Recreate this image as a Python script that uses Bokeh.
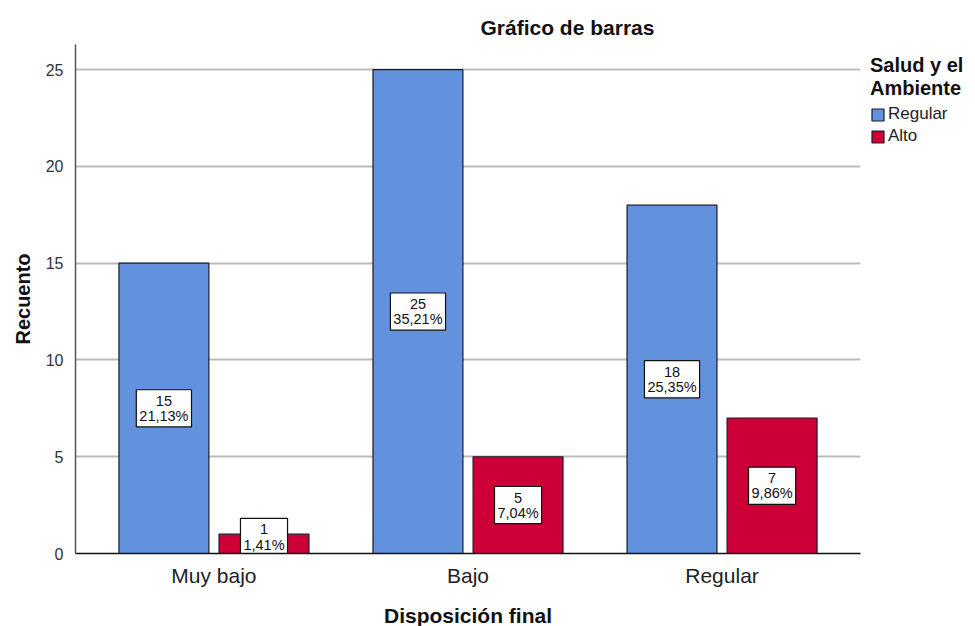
from bokeh.plotting import figure
from bokeh.models import (ColumnDataSource, FactorRange, Range1d, Legend, LegendItem,
                          FixedTicker, Title)
from bokeh.core.properties import value
from bokeh.transform import dodge
from bokeh.embed import file_html
from bokeh.resources import INLINE

categories = ["Muy bajo", "Bajo", "Regular"]
regular = [15, 25, 18]
alto = [1, 5, 7]
pct_regular = ["21,13%", "35,21%", "25,35%"]
pct_alto = ["1,41%", "7,04%", "9,86%"]
series_names = ["Regular", "Alto"]

BLUE = "#6292de"
RED = "#cc0036"
EDGE = "#1b1b2a"
FONT = "Liberation Sans"
MIN_LABEL_Y = 0.85

def label_y(vals):
    return [max(v / 2, MIN_LABEL_Y) for v in vals]

src_r = ColumnDataSource(dict(cat=categories, val=regular,
                              txt=[f"{v}\n{p}" for v, p in zip(regular, pct_regular)],
                              ly=label_y(regular)))
src_a = ColumnDataSource(dict(cat=categories, val=alto,
                              txt=[f"{v}\n{p}" for v, p in zip(alto, pct_alto)],
                              ly=label_y(alto)))

p = figure(frame_width=785, frame_height=509, output_backend="svg", toolbar_location=None,
           x_range=FactorRange(*categories, range_padding=0.03),
           y_range=Range1d(0, 26.3),
           min_border_left=75, min_border_top=44, min_border_right=0, min_border_bottom=0)
p.outline_line_color = None
p.background_fill_color = "white"

off = 0.197
w = 0.354
rr = p.vbar(x=dodge("cat", -off, range=p.x_range), top="val", width=w, source=src_r,
            fill_color=BLUE, line_color=EDGE, line_width=1.2)
ra = p.vbar(x=dodge("cat", off, range=p.x_range), top="val", width=w, source=src_a,
            fill_color=RED, line_color=EDGE, line_width=1.2)

for src, o in ((src_r, -off), (src_a, off)):
    p.text(x=dodge("cat", o, range=p.x_range), y="ly", text="txt", source=src,
           text_align="center", text_baseline="middle",
           text_font=value(FONT), text_font_size="14.5px", text_color="#111111",
           text_line_height=0.95,
           background_fill_color="white", border_line_color="#111111",
           border_line_width=1.2, padding=3)

# axes
p.yaxis.ticker = FixedTicker(ticks=[0, 5, 10, 15, 20, 25])
p.yaxis.axis_label = "Recuento"
p.xaxis.axis_label = "Disposición final"
for ax in (p.xaxis[0], p.yaxis[0]):
    ax.axis_label_text_font = FONT
    ax.axis_label_text_font_style = "bold"
    ax.axis_label_text_color = "#111111"
    ax.major_label_text_font = FONT
    ax.minor_tick_line_color = None
    ax.major_tick_line_color = None
p.yaxis.axis_label_text_font_size = "20px"
p.xaxis.axis_label_text_font_size = "21px"
p.yaxis.major_label_text_font_size = "16px"
p.yaxis.major_label_text_color = "#333333"
p.yaxis.axis_line_color = "#555555"
p.yaxis.axis_line_width = 1.5
p.yaxis.major_label_standoff = 6
p.yaxis.axis_label_standoff = 9
p.xaxis.major_label_text_font_size = "21px"
p.xaxis.major_label_text_color = "#222222"
p.xaxis.axis_line_color = "#111111"
p.xaxis.axis_line_width = 1.5
p.xaxis.major_label_standoff = 4
p.xaxis.axis_label_standoff = 14

p.xgrid.grid_line_color = None
p.ygrid.grid_line_color = "#bcbcbc"
p.ygrid.grid_line_width = 2

# title
p.title = Title(text="Gráfico de barras", align="left", offset=405,
                text_font=FONT, text_font_size="21px", text_font_style="bold",
                text_color="#111111", standoff=11)

legend = Legend(items=[LegendItem(label=series_names[0], renderers=[rr]),
                       LegendItem(label=series_names[1], renderers=[ra])],
                title="Salud y el\nAmbiente",
                title_text_font=FONT, title_text_font_size="20px",
                title_text_font_style="bold", title_text_color="#111111",
                title_text_line_height=1.0,
                title_standoff=4,
                label_text_font=FONT, label_text_font_size="17px", label_text_color="#222222",
                glyph_width=15, glyph_height=15, label_standoff=3, spacing=2,
                label_height=20, border_line_color=None, background_fill_alpha=0,
                location="top_left", margin=10, padding=0)
p.add_layout(legend, "right")

open("out.html", "w").write(file_html(p, INLINE))
